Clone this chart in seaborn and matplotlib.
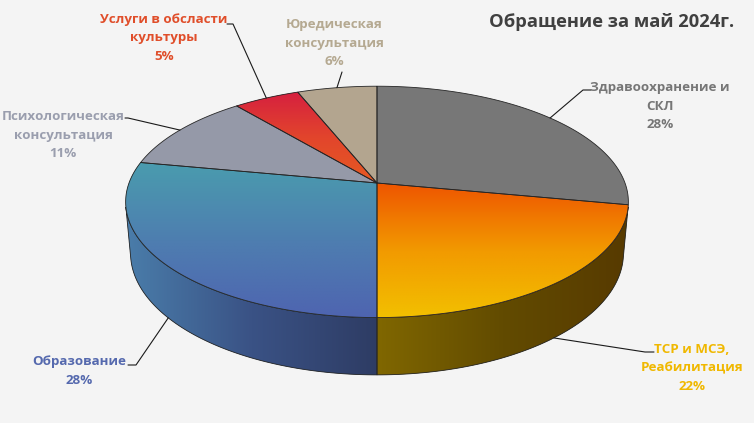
import numpy as np
import seaborn as sns
import matplotlib.pyplot as plt
from matplotlib.patches import Polygon

sns.set_theme(style="white")
plt.rcParams['font.family'] = ['Open Sans', 'DejaVu Sans']

# data
categories = ["Здравоохранение и\nСКЛ", "ТСР и МСЭ,\nРеабилитация", "Образование",
              "Психологическая\nконсультация", "Услуги в обсласти\nкультуры", "Юредическая\nконсультация"]
values = [28, 22, 28, 11, 5, 6]
title = "Обращение за май 2024г."

# top / side colours (gradient stops), label colours
top_colors = [["#777777"], ["#EE5500", "#F29A00", "#F2C000"], ["#4A9CAE", "#4E7EB0", "#4E64B0"],
              ["#9599A8"], ["#D6203F", "#E2452C", "#E65A22"], ["#B3A58F"]]
side_colors = [["#555555"], ["#806700", "#624B00", "#573A00"], ["#4A7DAA", "#3A5285", "#2E3C64"],
               ["#6E7180"], ["#A0182E"], ["#857963"]]
label_colors = ["#767676", "#F0B800", "#5569AE", "#9A9EAE", "#E04E2A", "#B5A991"]

# label placement: text centre, elbow, line end (pixels)
label_pos = [(660, 106), (692, 368), (79, 371), (63, 135), (164, 38), (334, 43)]
elbows = [(583, 90), (645, 352), (136, 365), (128, 118), (233, 24), (342, 72)]
ends = [(591, 90), (654, 352), (128, 365), (125, 118), (227, 24), (342, 72)]

W, H = 754, 423
cx, cy, k = 377, 183, 248
elev = np.radians(27)
D = 5.46
depth = 0.234


def project(theta, Y):
    # theta measured clockwise from the far point of the pie
    X = np.sin(theta)
    Z = -np.cos(theta)
    yc = Y * np.cos(elev) - Z * np.sin(elev)
    zc = Y * np.sin(elev) + Z * np.cos(elev)
    s = D / (D - zc)
    return cx + k * X * s, cy - k * yc * s


def center_point(Y):
    zc = Y * np.sin(elev)
    yc = Y * np.cos(elev)
    s = D / (D - zc)
    return cx, cy - k * yc * s


# visible outer side range
lim = np.arccos(-1 / (D * np.cos(elev)))
vis_a, vis_b = lim, 2 * np.pi - lim

fig = plt.figure(figsize=(W / 100, H / 100), dpi=100)
fig.patch.set_facecolor("#F4F4F4")
ax = fig.add_axes([0, 0, 1, 1])
ax.set_xlim(0, W)
ax.set_ylim(H, 0)
ax.axis("off")


def fill_gradient(poly_xy, colors, direction, zorder):
    poly = Polygon(poly_xy, closed=True, facecolor=colors[0], edgecolor="none", zorder=zorder)
    ax.add_patch(poly)
    if len(colors) > 1:
        xs, ys = poly_xy[:, 0], poly_xy[:, 1]
        if direction == "v":
            grad = np.linspace(0, 1, 256)[:, None]
        else:
            grad = np.linspace(0, 1, 256)[None, :]
        cmap = sns.blend_palette(colors, n_colors=256, as_cmap=True)
        im = ax.imshow(grad, extent=[xs.min(), xs.max(), ys.max(), ys.min()], cmap=cmap,
                       aspect="auto", origin="upper", zorder=zorder, interpolation="bilinear")
        im.set_clip_path(poly)
    outline = Polygon(poly_xy, closed=True, facecolor="none", edgecolor="#262626",
                      linewidth=0.6, zorder=zorder + 0.5)
    ax.add_patch(outline)


bounds = np.concatenate([[0], np.cumsum(values)]) / sum(values) * 2 * np.pi

# sides
for i in range(len(values)):
    a, b = max(bounds[i], vis_a), min(bounds[i + 1], vis_b)
    if b <= a:
        continue
    th = np.linspace(a, b, 120)
    tx, ty = project(th, 0)
    bx, by = project(th[::-1], -depth)
    pts = np.column_stack([np.concatenate([tx, bx]), np.concatenate([ty, by])])
    fill_gradient(pts, side_colors[i], "h", 2)

# tops
for i in range(len(values)):
    th = np.linspace(bounds[i], bounds[i + 1], 200)
    tx, ty = project(th, 0)
    pts = np.vstack([[center_point(0)], np.column_stack([tx, ty])])
    fill_gradient(pts, top_colors[i], "v", 5)

# labels and leader lines
for i, name in enumerate(categories):
    mid = (bounds[i] + bounds[i + 1]) / 2
    Y = -depth if vis_a < mid < vis_b else 0
    axp, ayp = project(mid, Y)
    ex, ey = elbows[i]
    fx, fy = ends[i]
    ax.plot([axp, ex, fx], [ayp, ey, fy], color="#1a1a1a", lw=0.8, zorder=8)
    pct = round(values[i] / sum(values) * 100)
    ax.text(label_pos[i][0], label_pos[i][1], f"{name}\n{pct}%", ha="center", va="center",
            color=label_colors[i], fontsize=9.6, fontweight="bold", linespacing=1.58, zorder=9)

ax.text(612, 22, title, ha="center", va="center", color="#404040", fontsize=13.2,
        fontweight="bold", zorder=9)

fig.savefig("out.png", dpi=100, facecolor=fig.get_facecolor())
